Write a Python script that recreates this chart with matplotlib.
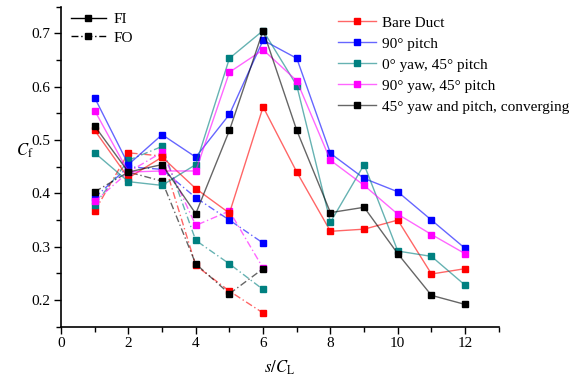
import numpy as np
import matplotlib.pyplot as plt
from matplotlib.lines import Line2D
from matplotlib.ticker import MultipleLocator
from matplotlib.colors import to_rgba

plt.rcParams['font.family'] = ['Liberation Serif', 'DejaVu Serif']
plt.rcParams['mathtext.fontset'] = 'stix'

# s/C_L positions
x_fi = np.arange(1, 13)
x_fo = np.arange(1, 7)

labels = ['Bare Duct', '90° pitch', '0° yaw, 45° pitch', '90° yaw, 45° pitch',
          '45° yaw and pitch, converging']
colors = ['#ff0000', '#0000ff', '#008080', '#ff00ff', '#000000']

# FI (solid) values
fi_bare = [0.518, 0.429, 0.468, 0.409, 0.363, 0.562, 0.440, 0.329, 0.333, 0.350, 0.249, 0.259]
fi_90p = [0.579, 0.454, 0.510, 0.468, 0.548, 0.687, 0.653, 0.475, 0.428, 0.403, 0.350, 0.297]
fi_0y45p = [0.476, 0.422, 0.415, 0.454, 0.653, 0.705, 0.602, 0.346, 0.454, 0.292, 0.282, 0.228]
fi_90y45p = [0.555, 0.440, 0.442, 0.442, 0.627, 0.669, 0.611, 0.462, 0.415, 0.361, 0.323, 0.287]
fi_45conv = [0.526, 0.440, 0.454, 0.362, 0.518, 0.705, 0.518, 0.364, 0.374, 0.287, 0.209, 0.192]

# FO (dash-dot) values
fo_bare = [0.367, 0.476, 0.470, 0.265, 0.217, 0.176]
fo_90p = [0.392, 0.450, 0.445, 0.392, 0.350, 0.307]
fo_0y45p = [0.379, 0.462, 0.488, 0.312, 0.268, 0.220]
fo_90y45p = [0.385, 0.440, 0.477, 0.340, 0.367, 0.260]
fo_45conv = [0.403, 0.440, 0.423, 0.268, 0.212, 0.259]

fi_all = [fi_bare, fi_90p, fi_0y45p, fi_90y45p, fi_45conv]
fo_all = [fo_bare, fo_90p, fo_0y45p, fo_90y45p, fo_45conv]

fo_style = (0, (5, 2, 1, 2))

fig = plt.figure(figsize=(5.76, 3.85), dpi=100)
ax = fig.add_axes([0.106, 0.151, 0.760, 0.832])

for vals, c in zip(fo_all, colors):
    ax.plot(x_fo, vals, linestyle=fo_style, lw=1.0, color=to_rgba(c, 0.6),
            marker='s', ms=4.5, mfc=c, mec=c)
for vals, c in zip(fi_all, colors):
    ax.plot(x_fi, vals, linestyle='-', lw=1.0, color=to_rgba(c, 0.6),
            marker='s', ms=4.5, mfc=c, mec=c)

ax.set_xlim(0, 13)
ax.set_ylim(0.15, 0.75)
ax.xaxis.set_major_locator(MultipleLocator(2))
ax.xaxis.set_minor_locator(MultipleLocator(1))
ax.yaxis.set_major_locator(MultipleLocator(0.1))
ax.yaxis.set_minor_locator(MultipleLocator(0.05))
ax.set_xticks([0, 2, 4, 6, 8, 10, 12])
ax.set_xticklabels(['0', '2', '4', '6', '8', '10', '12'])
ax.tick_params(which='major', direction='out', length=5, width=1, labelsize=11, pad=2.5)
ax.tick_params(which='minor', direction='out', length=3.5, width=1)
ax.spines['top'].set_visible(False)
ax.spines['right'].set_visible(False)
for s in ('left', 'bottom'):
    ax.spines[s].set_linewidth(1.2)

ax.set_xlabel('$s/C_\\mathrm{L}$', fontsize=12, labelpad=6)
ax.set_ylabel('$C_\\mathrm{f}$', fontsize=12, rotation=0, va='center', ha='center')
ax.yaxis.set_label_coords(-0.083, 0.55)

# FI / FO legend
h1 = [Line2D([], [], color='black', lw=1.0, marker='s', ms=4.5),
      Line2D([], [], color='black', lw=1.0, linestyle=fo_style, marker='s', ms=4.5)]
leg1 = ax.legend(h1, ['FI', 'FO'], loc='upper left', bbox_to_anchor=(0.015, 0.99),
                 frameon=False, fontsize=11, handlelength=2.3, handletextpad=0.5,
                 labelspacing=0.3, borderpad=0.2, borderaxespad=0)
ax.add_artist(leg1)

# configuration legend
h2 = [Line2D([], [], color=to_rgba(c, 0.6), lw=1.0, marker='s', ms=4.5, mfc=c, mec=c)
      for c in colors]
ax.legend(h2, labels, loc='upper left', bbox_to_anchor=(0.625, 0.98),
          frameon=False, fontsize=11, handlelength=2.5, handletextpad=0.4,
          labelspacing=0.48, borderpad=0.2, borderaxespad=0)

fig.savefig('out.png', dpi=100)
